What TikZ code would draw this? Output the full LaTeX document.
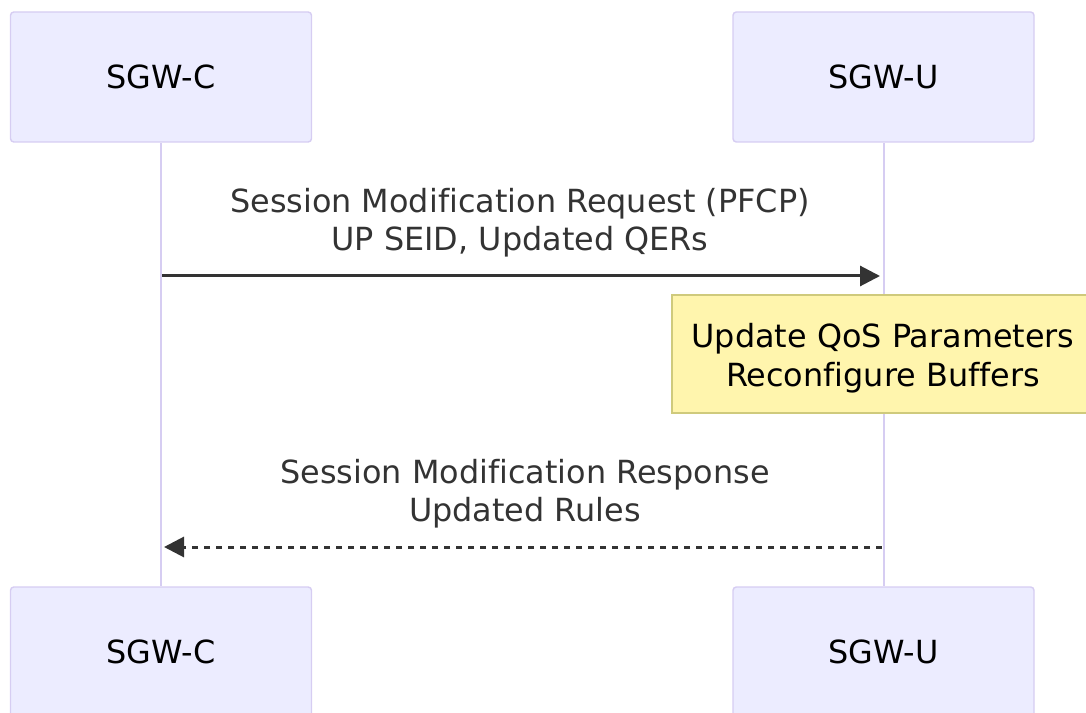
\documentclass[tikz,border=0pt]{standalone}
\usepackage{fontspec}
\setmainfont{DejaVu Sans}[Ligatures=NoCommon]
\usetikzlibrary{arrows.meta}
\definecolor{actfill}{HTML}{ECECFF}
\definecolor{actline}{HTML}{D6CDF2}
\definecolor{notefill}{HTML}{FFF5AD}
\definecolor{noteline}{HTML}{CFCA7C}
\definecolor{txt}{HTML}{333333}
\tikzset{
  lbl/.style={font=\fontsize{23.9pt}{28pt}\selectfont},
  actor/.style={lbl, draw=actline, fill=actfill, line width=1.1pt, rounded corners=2.5pt,
    minimum width=225.75pt, minimum height=97.5pt, inner sep=0pt, text=black},
  lifeline/.style={draw=actline, line width=1.5pt},
  msgtext/.style={lbl, anchor=base, inner sep=0pt, text=txt},
  msg/.style={draw=txt, line width=2.25pt, -{Triangle[length=15pt,width=15pt]}},
  reply/.style={msg, dash pattern=on 4.5pt off 4.5pt},
  note/.style={draw=noteline, fill=notefill, line width=1.2pt,
    minimum width=316.5pt, minimum height=88.5pt, inner sep=0pt},
  notetext/.style={lbl, anchor=base, inner sep=0pt, text=black}
}
\begin{document}
\begin{tikzpicture}[x=0.75pt,y=-0.75pt]
\useasboundingbox (0,0) rectangle (1086,713);
% actors
\node[actor] (topC) at (161,77) {SGW-C};
\node[actor] (topU) at (883.5,77) {SGW-U};
\node[actor] (botC) at (161,652) {SGW-C};
\node[actor] (botU) at (883.5,652) {SGW-U};
% lifelines
\draw[lifeline] (topC.south) -- (botC.north);
\draw[lifeline] (topU.south) -- (botU.north);
% message 1
\node[msgtext] (m1l1) at (520,213) {Session Modification Request (PFCP)};
\node[msgtext] (m1l2) at (520,251) {UP SEID, Updated QERs};
\coordinate (m1a) at (162,276);
\coordinate (m1b) at (880,276);
\draw[msg] (m1a) -- (m1b);
% note
\node[note] (note) at (883,354) {};
\node[notetext] (n1) at (883,347) {Update QoS Parameters};
\node[notetext] (n2) at (883,386) {Reconfigure Buffers};
% message 2
\node[msgtext] (m2l1) at (525,483) {Session Modification Response};
\node[msgtext] (m2l2) at (525,521) {Updated Rules};
\coordinate (m2a) at (882,547);
\coordinate (m2b) at (164,547);
\draw[reply] (m2a) -- (m2b);
\end{tikzpicture}
\end{document}
